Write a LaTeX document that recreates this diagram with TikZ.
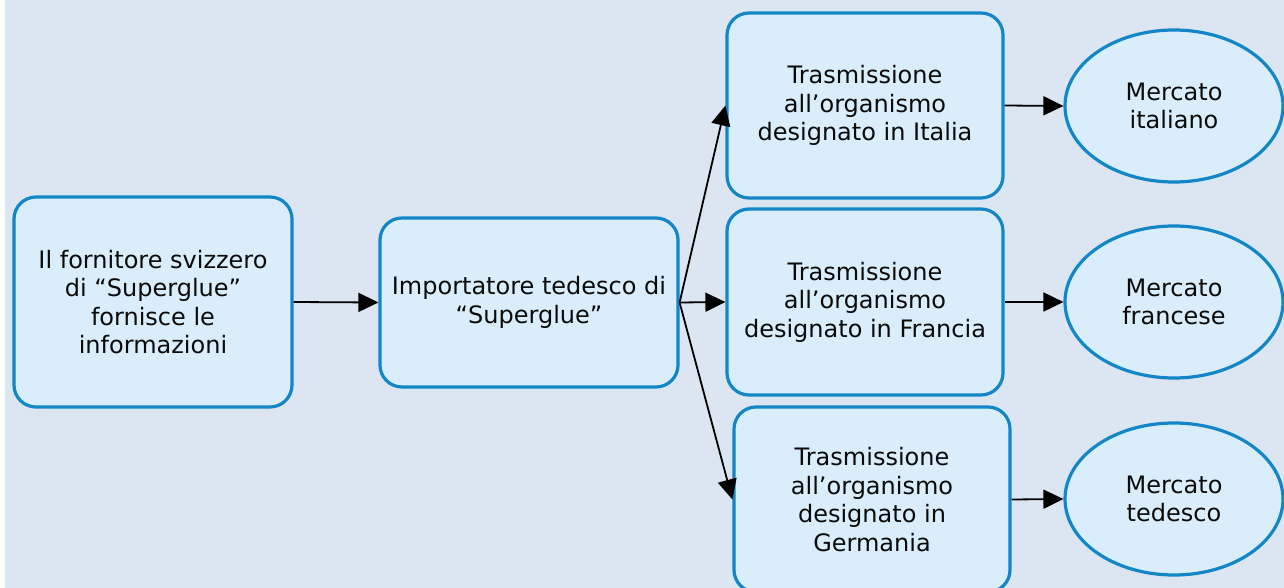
\documentclass[tikz,border=0pt]{standalone}
\usepackage{fontspec}
\setmainfont{DejaVu Sans}
\usetikzlibrary{shapes.geometric,arrows.meta}
\definecolor{bgc}{RGB}{220,230,242}
\definecolor{boxfill}{RGB}{217,238,250}
\definecolor{boxline}{RGB}{18,134,199}
\definecolor{txt}{RGB}{10,10,10}
\tikzset{
  box/.style={draw=boxline, fill=boxfill, line width=3.2pt, rounded corners=22pt,
    inner sep=0pt, align=center, text=txt,
    font=\fontsize{24}{28.5}\selectfont},
  mkt/.style={ellipse, draw=boxline, fill=boxfill, line width=3.2pt,
    inner sep=0pt, align=center, text=txt, minimum width=218pt, minimum height=152pt,
    font=\fontsize{24}{28.5}\selectfont},
  arr/.style={line width=1.8pt, -{Triangle[length=20pt,width=19pt]}}
}
\begin{document}
\begin{tikzpicture}[x=1pt,y=-1pt]
\useasboundingbox (0,0) rectangle (1284,588);
\clip (0,0) rectangle (1284,588);
\fill[white] (0,0) rectangle (1284,588);
\fill[bgc] (5,0) rectangle (1284,588);

\node[box, minimum width=278pt, minimum height=210pt] (A) at (153,302)
  {Il fornitore svizzero\\di “Superglue”\\fornisce le\\informazioni};
\node[box, minimum width=298pt, minimum height=169pt] (B) at (529,302.5)
  {Importatore tedesco di\\“Superglue”};
\node[box, minimum width=276pt, minimum height=185pt] (C1) at (865,105.5)
  {Trasmissione\\all’organismo\\designato in Italia};
\node[box, minimum width=276pt, minimum height=186pt] (C2) at (865,302)
  {Trasmissione\\all’organismo\\designato in Francia};
\node[box, minimum width=276pt, minimum height=185pt] (C3) at (872,499.5)
  {Trasmissione\\all’organismo\\designato in\\Germania};
\node[mkt] (E1) at (1174,106) {Mercato\\italiano};
\node[mkt] (E2) at (1174,302) {Mercato\\francese};
\node[mkt] (E3) at (1174,499) {Mercato\\tedesco};

\draw[arr] (A.east) -- (B.west);
\draw[arr] (B.east) -- (C1.west);
\draw[arr] (B.east) -- (C2.west);
\draw[arr] (B.east) -- (C3.west);
\draw[arr] (C1.east) -- (E1.west);
\draw[arr] (C2.east) -- (E2.west);
\draw[arr] (C3.east) -- (E3.west);
\end{tikzpicture}
\end{document}
